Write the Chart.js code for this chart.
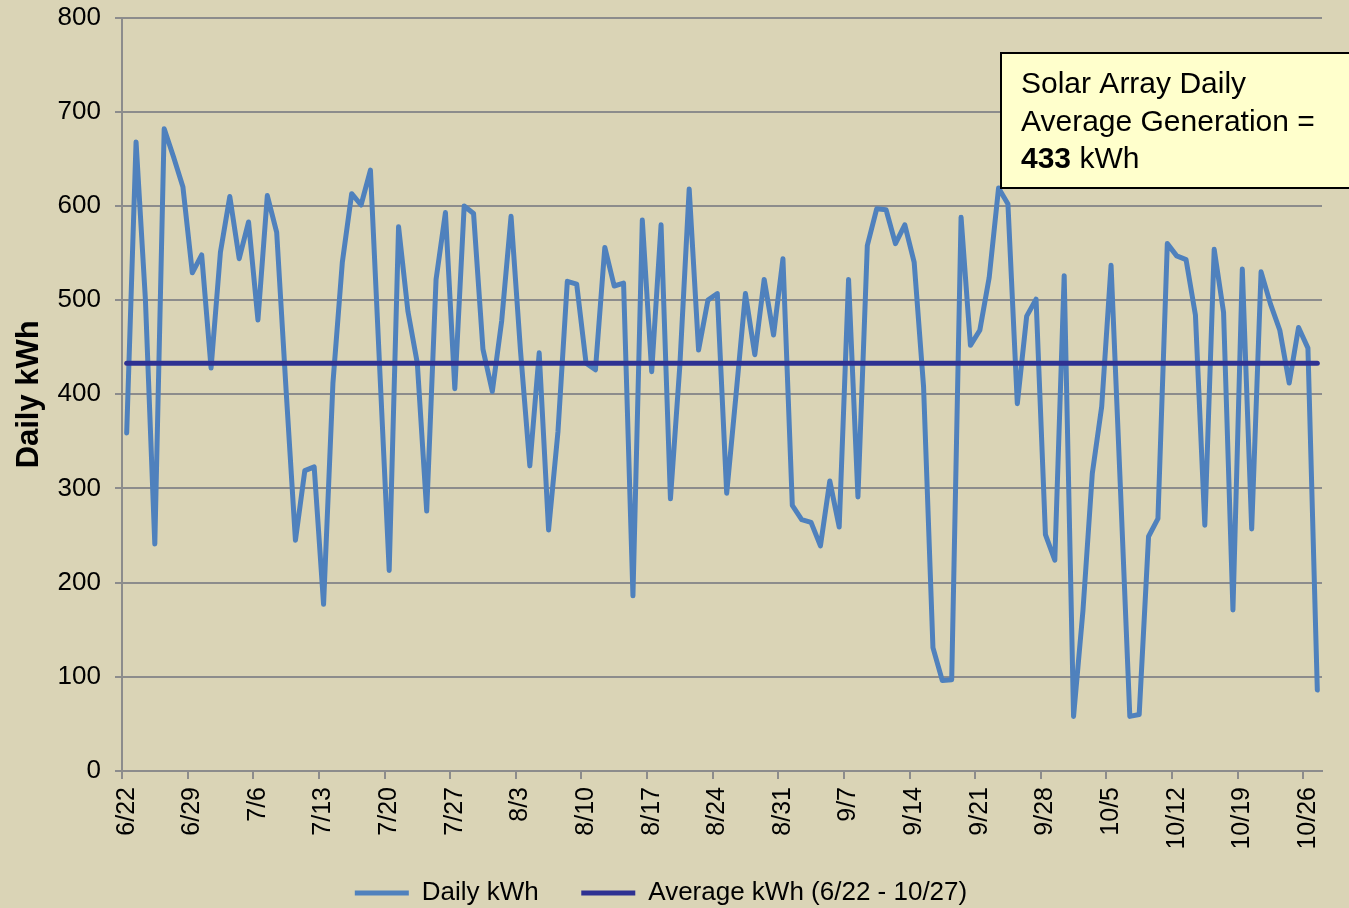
<!DOCTYPE html>
<html>
<head>
<meta charset="utf-8">
<title>Solar Array Daily kWh</title>
<script src="https://cdn.jsdelivr.net/npm/chart.js@4.4.0/dist/chart.umd.min.js"></script>
<style>
    html, body { margin: 0; padding: 0; overflow: hidden; background: #DAD4B6; }
    canvas { display: block; margin-top: -12px; }
</style>
</head>
<body>
<canvas id="solarChart" width="1349" height="928"></canvas>
<script>
// Daily generation, one value per day from 6/22 to 10/27
const dailyKwh = [
    359, 668, 500, 241, 682, 652, 620, 529, 548, 428, 551, 610, 544, 583, 479, 611,
    572, 405, 245, 319, 323, 177, 412, 540, 613, 601, 638, 425, 213, 578, 488, 433,
    276, 522, 593, 406, 600, 592, 448, 403, 478, 589, 447, 324, 444, 256, 360, 520,
    517, 433, 426, 556, 515, 518, 186, 585, 424, 580, 289, 430, 618, 447, 500, 507,
    295, 400, 507, 442, 522, 463, 544, 282, 267, 264, 239, 308, 259, 522, 291, 558,
    597, 596, 560, 580, 540, 408, 131, 96, 97, 588, 452, 468, 524, 619, 602, 390,
    483, 501, 251, 224, 526, 58, 170, 316, 387, 537, 300, 58, 60, 249, 268, 560,
    547, 543, 484, 261, 554, 487, 171, 533, 257, 530, 496, 468, 412, 471, 449, 86
];
const averageKwh = 433;
const averageSpan = [0, 127]; // first and last day index
const tickLabels = ['6/22', '6/29', '7/6', '7/13', '7/20', '7/27', '8/3', '8/10', '8/17', '8/24',
    '8/31', '9/7', '9/14', '9/21', '9/28', '10/5', '10/12', '10/19', '10/26'];
const tickStep = 7;
const boxLines = ['Solar Array Daily', 'Average Generation ='];

const FONT = '"Liberation Sans", Arial, sans-serif';
const GRID = '#8C8C8C';
const SHIFT = 12; // canvas is pulled up by this much (see css)

// fond beige
const fond = {
    id: 'fond',
    beforeDraw(chart) {
        const c = chart.ctx;
        c.save();
        c.fillStyle = '#DAD4B6';
        c.fillRect(0, 0, chart.width, chart.height);
        c.restore();
    }
};

// yellow note box in the top right corner
const encadre = {
    id: 'encadre',
    afterDraw(chart) {
        const c = chart.ctx;
        const top = 53 + SHIFT;
        c.save();
        c.fillStyle = '#FFFFCC';
        c.fillRect(1001, top, 360, 135);
        c.strokeStyle = '#000';
        c.lineWidth = 2;
        c.strokeRect(1001, top, 360, 135);
        c.fillStyle = '#000';
        c.textBaseline = 'alphabetic';
        c.font = '30px ' + FONT;
        c.fillText(boxLines[0], 1021, top + 40);
        c.fillText(boxLines[1], 1021, top + 78);
        c.font = 'bold 30px ' + FONT;
        const nb = String(averageKwh);
        c.fillText(nb, 1021, top + 115);
        const w = c.measureText(nb).width;
        c.font = '30px ' + FONT;
        c.fillText(' kWh', 1021 + w, top + 115);
        c.restore();
    }
};

var ctx = document.getElementById('solarChart').getContext('2d');
var myChart = new Chart(ctx, {
    type: 'line',
    data: {
        datasets: [{
            label: 'Daily kWh',
            data: dailyKwh.map((v, i) => ({ x: i, y: v })),
            borderColor: '#4F81BD',
            backgroundColor: '#4F81BD',
            borderWidth: 5,
            borderJoinStyle: 'round',
            borderCapStyle: 'round',
            pointRadius: 0,
            tension: 0,
            order: 2
        }, {
            label: 'Average kWh (6/22 - 10/27)',
            data: averageSpan.map(d => ({ x: d, y: averageKwh })),
            borderColor: '#2E3192',
            backgroundColor: '#2E3192',
            borderWidth: 5,
            borderCapStyle: 'round',
            pointRadius: 0,
            order: 1
        }]
    },
    options: {
        responsive: false,
        animation: false,
        layout: { padding: { top: 6, right: 27, bottom: 0, left: 0 } },
        plugins: {
            tooltip: { enabled: false },
            legend: {
                position: 'bottom',
                labels: {
                    usePointStyle: true,
                    pointStyle: 'line',
                    pointStyleWidth: 54,
                    padding: 28,
                    color: '#000',
                    font: { family: FONT, size: 26 },
                    sort: (a, b) => a.datasetIndex - b.datasetIndex,
                    generateLabels: (chart) => {
                        const items = Chart.defaults.plugins.legend.labels.generateLabels(chart);
                        // un peu plus d'espace entre les deux entrées
                        items.forEach(it => { if (it.datasetIndex === 0) it.text += '  '; });
                        return items;
                    }
                }
            }
        },
        scales: {
            x: {
                type: 'linear',
                min: -0.5,
                max: dailyKwh.length - 0.5,
                afterBuildTicks: (scale) => {
                    scale.ticks = tickLabels.map((t, k) => ({ value: k * tickStep - 0.5 }));
                },
                afterFit: (scale) => { scale.height = 81; },
                grid: {
                    display: true,
                    drawOnChartArea: false,
                    drawTicks: true,
                    tickLength: 8,
                    color: GRID,
                    lineWidth: 2
                },
                border: { display: true, color: GRID, width: 2 },
                ticks: {
                    autoSkip: false,
                    minRotation: 90,
                    maxRotation: 90,
                    padding: 8,
                    labelOffset: 4.7,
                    color: '#000',
                    font: { family: FONT, size: 25 },
                    callback: (value) => tickLabels[Math.round((value + 0.5) / tickStep)]
                }
            },
            y: {
                min: 0,
                max: 800,
                afterFit: (scale) => { scale.width = 122; },
                grid: {
                    color: GRID,
                    lineWidth: 2,
                    tickLength: 7
                },
                border: { display: true, color: GRID, width: 2 },
                title: {
                    display: true,
                    text: 'Daily kWh',
                    color: '#000',
                    padding: { top: 11, bottom: 0 },
                    font: { family: FONT, size: 31, weight: 'bold' }
                },
                ticks: {
                    stepSize: 100,
                    padding: 14,
                    color: '#000',
                    font: { family: FONT, size: 26 }
                }
            }
        }
    },
    plugins: [fond, encadre]
});
</script>
</body>
</html>
